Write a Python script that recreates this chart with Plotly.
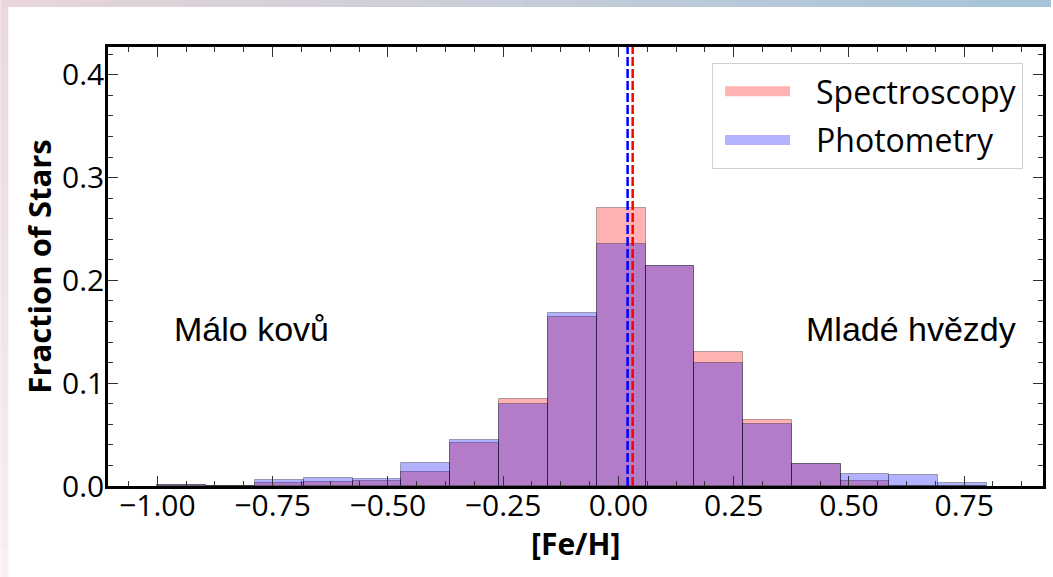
import numpy as np
import plotly.graph_objects as go

# ---------------- data ----------------
bin_edges = [-1.000, -0.894, -0.788, -0.682, -0.576, -0.471, -0.365, -0.259, -0.153,
             -0.047, 0.059, 0.165, 0.271, 0.376, 0.482, 0.588, 0.694, 0.800]
spectroscopy = [0.001, 0.000, 0.003, 0.004, 0.005, 0.014, 0.042, 0.085, 0.164,
                0.270, 0.214, 0.130, 0.064, 0.021, 0.005, 0.000, 0.000]
photometry = [0.001, 0.000, 0.006, 0.008, 0.007, 0.022, 0.045, 0.080, 0.168,
              0.235, 0.214, 0.120, 0.060, 0.021, 0.012, 0.011, 0.003]
spec_mean = 0.031
phot_mean = 0.020
x_ticks = [-1.0, -0.75, -0.5, -0.25, 0.0, 0.25, 0.5, 0.75]
x_tick_labels = ["\u22121.00", "\u22120.75", "\u22120.50", "\u22120.25", "0.00", "0.25", "0.50", "0.75"]
y_ticks = [0.0, 0.1, 0.2, 0.3, 0.4]
y_tick_labels = ["0.0", "0.1", "0.2", "0.3", "0.4"]
series_names = ["Spectroscopy", "Photometry"]
x_title = "[Fe/H]"
y_title = "Fraction of Stars"
left_note = "Málo kovů"
right_note = "Mladé hvězdy"

# ---------------- style ----------------
W, H = 1053, 577
ML, MR, MT, MB = 108, 7, 47, 91
RED_FILL = "rgba(255,0,0,0.3)"
BLUE_FILL = "rgba(0,0,255,0.3)"
EDGE = "rgba(0,0,0,0.3)"
TICK_FONT = dict(family="Open Sans", size=30, color="black")

edges = np.array(bin_edges)
centers = (edges[:-1] + edges[1:]) / 2
widths = np.diff(edges)

fig = go.Figure()
fig.add_bar(x=centers, y=spectroscopy, width=widths, name=series_names[0],
            marker=dict(color=RED_FILL, line=dict(color=EDGE, width=1)), showlegend=False)
fig.add_bar(x=centers, y=photometry, width=widths, name=series_names[1],
            marker=dict(color=BLUE_FILL, line=dict(color=EDGE, width=1)), showlegend=False)

# legend entries (wide swatches)
for nm, col, grp in [(series_names[0], RED_FILL, "a"), (series_names[1], BLUE_FILL, "b")]:
    fig.add_scatter(x=[None], y=[None], mode="lines", name=nm, legendgroup=grp,
                    line=dict(color=col, width=22, dash="0px,7px,65px,80px"), hoverinfo="skip")

fig.add_vline(x=phot_mean, line=dict(color="blue", width=2.5, dash="9px,3px"))
fig.add_vline(x=spec_mean, line=dict(color="red", width=2.5, dash="9px,3px"))

fig.add_annotation(x=-0.796, y=0.153, xref="x", yref="y", text=left_note, showarrow=False,
                   font=dict(family="Liberation Sans", size=34, color="black"))
fig.add_annotation(x=0.634, y=0.153, xref="x", yref="y", text=right_note, showarrow=False,
                   font=dict(family="Liberation Sans", size=34, color="black"))

# decorative slide border (gradient strips)
pw = W - ML - MR
ph = H - MT - MB
def px2paper_x(px):
    return (px - ML) / pw
def px2paper_y(py):
    return (H - MB - py) / ph

# x-axis title placed precisely
fig.add_annotation(x=0.5, y=px2paper_y(543), xref="paper", yref="paper",
                   text=f"<b>{x_title}</b>", showarrow=False, yanchor="middle",
                   font=dict(family="Open Sans", size=30, color="black"))

n = 40
for i in range(n):
    t = i / (n - 1)
    r = int(232 + (165 - 232) * t)
    g = int(214 + (196 - 214) * t)
    b = int(218 + (216 - 218) * t)
    x0 = i * W / n
    x1 = (i + 1) * W / n + 1
    fig.add_shape(type="rect", xref="paper", yref="paper", layer="below",
                  x0=px2paper_x(x0), x1=px2paper_x(x1), y0=px2paper_y(7), y1=px2paper_y(0),
                  line=dict(width=0), fillcolor=f"rgb({r},{g},{b})")
m = 20
for i in range(m):
    t = i / (m - 1)
    r = int(234 + (248 - 234) * t)
    g = int(216 + (240 - 216) * t)
    b = int(220 + (241 - 220) * t)
    y0 = 7 + i * (H - 7) / m
    y1 = 7 + (i + 1) * (H - 7) / m + 1
    fig.add_shape(type="rect", xref="paper", yref="paper", layer="below",
                  x0=px2paper_x(0), x1=px2paper_x(8), y0=px2paper_y(y1), y1=px2paper_y(y0),
                  line=dict(width=0), fillcolor=f"rgb({r},{g},{b})")

fig.update_layout(
    width=W, height=H,
    margin=dict(l=ML, r=MR, t=MT, b=MB, pad=0),
    paper_bgcolor="white", plot_bgcolor="white",
    barmode="overlay", bargap=0,
    font=dict(family="Open Sans", color="black"),
    legend=dict(x=px2paper_x(714), y=px2paper_y(63), xanchor="left", yanchor="top",
                bgcolor="white", bordercolor="#d0d0d0", borderwidth=1,
                font=dict(family="Open Sans", size=32), itemwidth=93,
                tracegroupgap=4),
    showlegend=True,
)
fig.update_xaxes(range=[-1.107, 0.921], tickvals=x_ticks, ticktext=x_tick_labels,
                 ticks="inside", ticklen=10, tickwidth=1, tickcolor="#333",
                 showline=True, linecolor="black", linewidth=2.5, mirror="allticks",
                 showgrid=False, zeroline=False, tickfont=TICK_FONT, ticklabelstandoff=-9,
                 minor=dict(dtick=0.0625, tick0=0, ticks="inside", ticklen=5, tickcolor="#333", showgrid=False))
fig.update_yaxes(range=[0, 0.427], tickvals=y_ticks, ticktext=y_tick_labels,
                 ticks="inside", ticklen=10, tickwidth=1, tickcolor="#333",
                 showline=True, linecolor="black", linewidth=2.5, mirror="allticks",
                 showgrid=False, zeroline=False, tickfont=TICK_FONT, ticklabelstandoff=-5,
                 minor=dict(dtick=0.02, tick0=0, ticks="inside", ticklen=5, tickcolor="#333", showgrid=False),
                 title=dict(text=f"<b>{y_title}</b>", font=dict(family="Open Sans", size=31), standoff=2))

fig.write_html("out.html", config={"displayModeBar": False},
               post_script="document.body.style.margin='0px';")
